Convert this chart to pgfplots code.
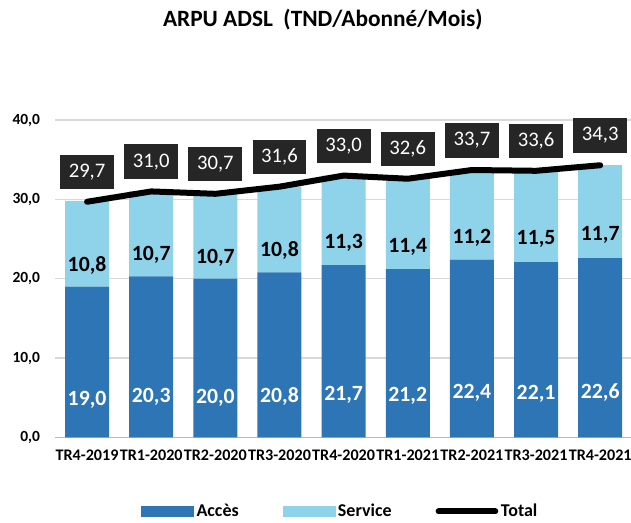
\documentclass[border=0pt]{standalone}
\usepackage{fontspec}
\setmainfont{Carlito}
\usepackage{pgfplots}
\usepackage{pgfplotstable}
\pgfplotsset{compat=1.18}
\definecolor{acces}{HTML}{2E75B6}
\definecolor{service}{HTML}{8ED3EA}
\definecolor{boxc}{HTML}{262626}
\definecolor{gridc}{HTML}{D9D9D9}
\pgfplotstableread{
x a s t
0 19.0 10.8 29.7
1 20.3 10.7 31.0
2 20.0 10.7 30.7
3 20.8 10.8 31.6
4 21.7 11.3 33.0
5 21.2 11.4 32.6
6 22.4 11.2 33.7
7 22.1 11.5 33.6
8 22.6 11.7 34.3
}\data
\pgfplotsset{
  common/.style={
    scale only axis, width=432pt, height=238.1pt,
    xmin=-0.5, xmax=8.48, ymin=0, ymax=40,
    /pgf/number format/.cd, fixed, fixed zerofill, precision=1, use comma, assume math mode=true,
    /pgfplots/.cd,
  }
}
\begin{document}
\begin{tikzpicture}
\begin{axis}[common,
  ybar stacked, bar width=33pt,
  xtick=data,
  xticklabels={TR4-2019,TR1-2020,TR2-2020,TR3-2020,TR4-2020,TR1-2021,TR2-2021,TR3-2021,TR4-2021},
  ytick={0,10,20,30,40},
  ymajorgrids, grid style={gridc, line width=1pt},
  axis x line*=bottom, axis y line*=left,
  x axis line style={draw=gray!55, line width=1pt, -},
  y axis line style={draw=none},
  major tick length=0pt,
  yticklabel style={font=\fontsize{11.6}{13}\selectfont\bfseries, inner sep=0pt, xshift=-11pt},
  xticklabel style={font=\fontsize{12.1}{13}\selectfont\bfseries, inner sep=0pt, yshift=-9pt},
  title={ARPU ADSL\ \ (TND/Abonné/Mois)},
  title style={font=\fontsize{17.5}{20}\selectfont\bfseries, at={(axis description cs:0.465,1.29)}, anchor=center},
]
\coordinate (O) at (rel axis cs:0,0);
\addplot[fill=acces, draw=none, nodes near coords, point meta=explicit,
  visualization depends on={\thisrow{a} \as \rawy},
  every node near coord/.append style={text=white, font=\fontsize{16.3}{18}\selectfont\bfseries, anchor=center, shift={(axis direction cs:0,-\rawy/4)}}]
  table[x=x, y=a, meta=a]{\data};
\addplot[fill=service, draw=none, nodes near coords, point meta=explicit,
  visualization depends on={\thisrow{s} \as \rawy},
  every node near coord/.append style={text=black, font=\fontsize{16.3}{18}\selectfont\bfseries, anchor=center, shift={(axis direction cs:0,-\rawy/4)}}]
  table[x=x, y=s, meta=s]{\data};
\end{axis}
\begin{axis}[common, hide axis,
  legend columns=3,
  legend style={draw=none, fill=none, at={(0.496,-0.233)}, anchor=center,
    font=\fontsize{13.5}{15}\selectfont\bfseries,
    /tikz/every even column/.append style={column sep=31pt}},
]
\addlegendimage{legend image code/.code={\fill[acces] (0pt,-3.75pt) rectangle (39pt,3.75pt);}}
\addlegendentry{Accès}
\addlegendimage{legend image code/.code={\fill[service] (0pt,-3.75pt) rectangle (39pt,3.75pt);}}
\addlegendentry{Service}
\addplot[black, line width=4.5pt, line cap=round, line join=round,
  nodes near coords, point meta=explicit,
  every node near coord/.append style={fill=boxc, text=white, font=\fontsize{15.5}{17}\selectfont,
    inner xsep=6.5pt, minimum height=26pt, anchor=south, yshift=7pt},
  legend image code/.code={\draw[black, line width=4.5pt, line cap=round] (-2pt,0) -- (40.5pt,0);}]
  table[x=x, y=t, meta=t]{\data};
\addlegendentry{Total}
\end{axis}
\pgfresetboundingbox
\path[use as bounding box] ([shift={(-41.25pt,-63.4pt)}]O) rectangle ([shift={(432pt,328.1pt)}]O);
\end{tikzpicture}
\end{document}
